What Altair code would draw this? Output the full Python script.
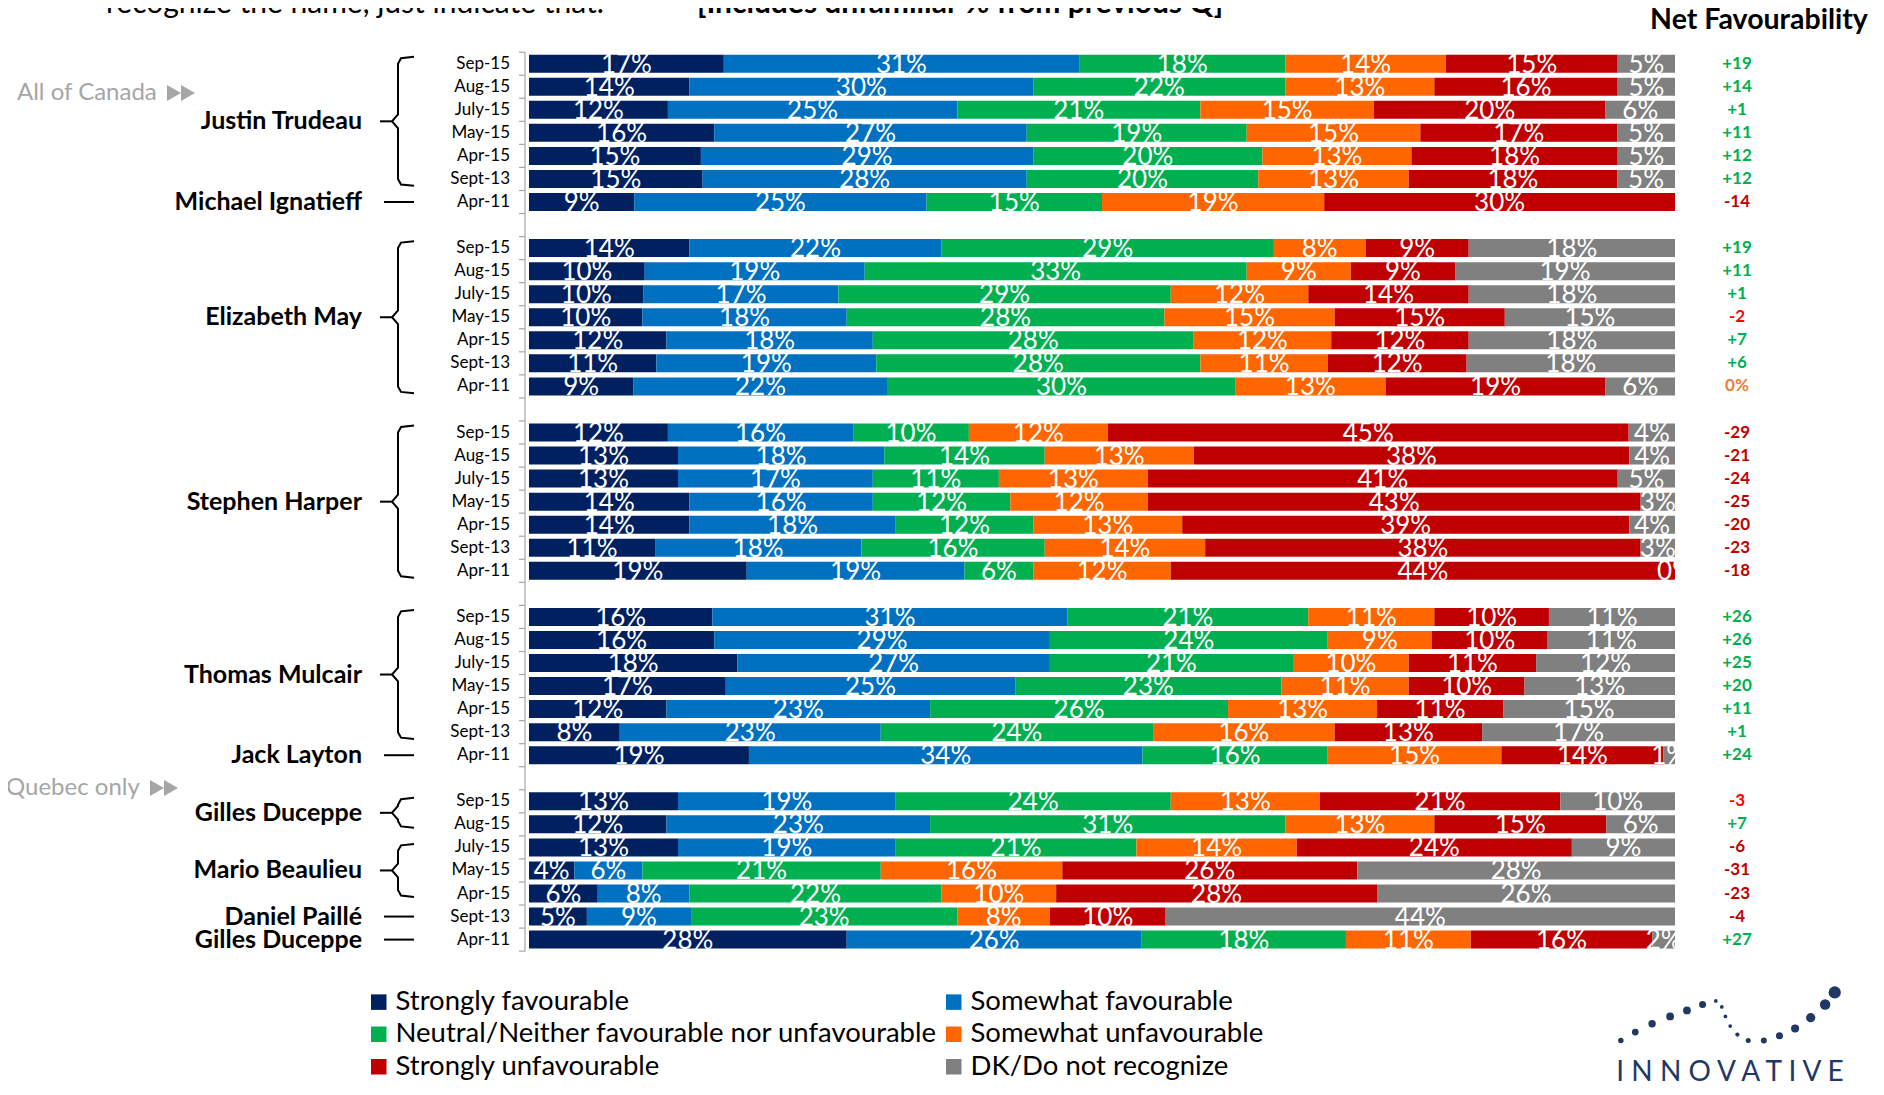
import altair as alt
import pandas as pd

# ---------------- data ----------------
dates = ["Sep-15", "Aug-15", "July-15", "May-15", "Apr-15", "Sept-13", "Apr-11"]
leaders = (["Justin Trudeau"] * 6 + ["Michael Ignatieff"]
           + ["Elizabeth May"] * 7
           + ["Stephen Harper"] * 7
           + ["Thomas Mulcair"] * 6 + ["Jack Layton"]
           + ["Gilles Duceppe"] * 2 + ["Mario Beaulieu"] * 3 + ["Daniel Paillé", "Gilles Duceppe"])
categories = ["Strongly favourable", "Somewhat favourable",
              "Neutral/Neither favourable nor unfavourable", "Somewhat unfavourable",
              "Strongly unfavourable", "DK/Do not recognize"]
colors = ["#002060", "#0070C0", "#00B050", "#FF6600", "#C00000", "#808080"]

strongly_fav = [17, 14, 12, 16, 15, 15, 9, 14, 10, 10, 10, 12, 11, 9, 12, 13, 13, 14, 14, 11, 19,
                16, 16, 18, 17, 12, 8, 19, 13, 12, 13, 4, 6, 5, 28]
somewhat_fav = [31, 30, 25, 27, 29, 28, 25, 22, 19, 17, 18, 18, 19, 22, 16, 18, 17, 16, 18, 18, 19,
                31, 29, 27, 25, 23, 23, 34, 19, 23, 19, 6, 8, 9, 26]
neutral = [18, 22, 21, 19, 20, 20, 15, 29, 33, 29, 28, 28, 28, 30, 10, 14, 11, 12, 12, 16, 6,
           21, 24, 21, 23, 26, 24, 16, 24, 31, 21, 21, 22, 23, 18]
somewhat_unfav = [14, 13, 15, 15, 13, 13, 19, 8, 9, 12, 15, 12, 11, 13, 12, 13, 13, 12, 13, 14, 12,
                  11, 9, 10, 11, 13, 16, 15, 13, 13, 14, 16, 10, 8, 11]
strongly_unfav = [15, 16, 20, 17, 18, 18, 30, 9, 9, 14, 15, 12, 12, 19, 45, 38, 41, 43, 39, 38, 44,
                  10, 10, 11, 10, 11, 13, 14, 21, 15, 24, 26, 28, 10, 16]
dk = [5, 5, 6, 5, 5, 5, None, 18, 19, 18, 15, 18, 18, 6, 4, 4, 5, 3, 4, 3, 0,
      11, 11, 12, 13, 15, 17, 1, 10, 6, 9, 28, 26, 44, 2]
net = [19, 14, 1, 11, 12, 12, -14, 19, 11, 1, -2, 7, 6, 0, -29, -21, -24, -25, -20, -23, -18,
       26, 26, 25, 20, 11, 1, 24, -3, 7, -6, -31, -23, -4, 27]

# logo dots (decorative), in reference-pixel units
logo_x = [1349, 1361, 1375, 1390, 1404, 1417, 1428, 1433, 1436, 1440, 1446, 1455, 1468, 1481, 1494, 1507, 1519, 1527]
logo_y = [866, 859, 852, 846, 841, 836, 833, 838, 846, 854, 861, 866, 866, 862, 856, 847, 836, 826]
logo_s = [30, 45, 55, 60, 60, 50, 14, 14, 14, 14, 18, 25, 35, 50, 65, 85, 110, 150]

# ---------------- layout ----------------
W, H = 1868, 1080
BAR_L, BAR_R = 529.0, 1675.0
ROW0, STEP = 63.7, 23.05
F = "Lato"


def px(x):
    return (x - BAR_L) / (BAR_R - BAR_L)


def ry(y):
    return (y - ROW0) / STEP


XS = alt.Scale(domain=[px(8), px(8 + W)], nice=False, zero=False)
YS = alt.Scale(domain=[ry(8), ry(8 + H)], nice=False, zero=False, reverse=True)


def X(f):
    return alt.X(f, scale=XS, axis=None)


def Y(f):
    return alt.Y(f, scale=YS, axis=None)


rows = [g * 8 + i for g in range(5) for i in range(7)]
series = [strongly_fav, somewhat_fav, neutral, somewhat_unfav, strongly_unfav, dk]

recs = []
for k, r in enumerate(rows):
    for j, vals in enumerate(series):
        v = vals[k]
        if v is None:
            continue
        recs.append({"row": r, "cat": categories[j], "ord": j, "v": v, "lab": f"{v}%"})
df = pd.DataFrame(recs)

base = alt.Chart(df).transform_stack(
    stack="v", groupby=["row"], as_=["x0", "x1"], offset="normalize",
    sort=[alt.SortField("ord", order="ascending")]
).transform_calculate(
    xm="(datum.x0 + datum.x1) / 2", yt="datum.row - 0.39", yb="datum.row + 0.39"
)

legend = alt.Legend(orient="none", legendX=357, legendY=980, columns=2, direction="horizontal",
                    title=None, symbolType="square", symbolSize=240, symbolStrokeWidth=0,
                    symbolOpacity=1, labelFont=F, labelFontSize=27.5, labelColor="black",
                    labelLimit=900, labelOffset=3, rowPadding=3.5, columnPadding=2, padding=0)

bars = base.mark_bar().encode(
    x=X("x0:Q"), x2="x1:Q", y=Y("yt:Q"), y2="yb:Q",
    color=alt.Color("cat:N", scale=alt.Scale(domain=categories, range=colors), legend=legend),
)
labels = base.mark_text(font=F, fontSize=26, color="white", align="center",
                        baseline="middle", dy=1).encode(x=X("xm:Q"), y=Y("row:Q"), text="lab:N")


# net favourability
def net_text(v):
    return "0%" if v == 0 else f"{v:+d}"


def net_color(v):
    if v > 0:
        return "#00B050"
    if v == 0:
        return "#ED7D31"
    if v >= -3:
        return "#FF0000"
    return "#C00000"


df_net = pd.DataFrame({"row": rows, "t": [net_text(v) for v in net], "c": [net_color(v) for v in net],
                       "x": px(1737)})
net_layer = alt.Chart(df_net).mark_text(font=F, fontWeight="bold", fontSize=17, align="center",
                                         baseline="middle").encode(
    x=X("x:Q"), y=Y("row:Q"), text="t:N", fill=alt.Fill("c:N", scale=None))

# date labels (category axis)
df_dates = pd.DataFrame({"row": rows, "d": dates * 5, "x": px(510)})
date_layer = alt.Chart(df_dates).mark_text(font=F, fontSize=17, align="right", baseline="middle",
                                           color="black").encode(x=X("x:Q"), y=Y("row:Q"), text="d:N")

# axis line + ticks
df_axis = pd.DataFrame({"x": [px(525)], "y": [-0.5], "y2": [38.5]})
axis_line = alt.Chart(df_axis).mark_rule(color="#A6A6A6", strokeWidth=1.2).encode(
    x=X("x:Q"), y=Y("y:Q"), y2="y2:Q")
df_ticks = pd.DataFrame({"y": [r - 0.5 for r in range(40)], "x": px(519), "x2": px(525)})
ticks = alt.Chart(df_ticks).mark_rule(color="#A6A6A6", strokeWidth=1.2).encode(
    x=X("x:Q"), x2="x2:Q", y=Y("y:Q"))

# leader names and braces
runs = []
for r, name in zip(rows, leaders):
    if runs and runs[-1]["name"] == name and runs[-1]["last"] == r - 1:
        runs[-1]["last"] = r
    else:
        runs.append({"name": name, "first": r, "last": r})

name_recs, pts = [], []
XV, XH, XP, XD, XC = px(398), px(414), px(392), px(380), px(401)
for i, run in enumerate(runs):
    n = run["last"] - run["first"] + 1
    if n > 1:
        pad = 0.3 if n >= 6 else 0.15
        top, bot = run["first"] - pad, run["last"] + pad
        mid = (top + bot) / 2
        path = [(XH, top), (XC, top + 0.06), (XV, top + 0.3), (XV, mid - 0.3), (XP, mid),
                (XV, mid + 0.3), (XV, bot - 0.3), (XC, bot - 0.06), (XH, bot)]
        for o, (bx, by) in enumerate(path):
            pts.append({"id": f"b{i}", "o": o, "bx": bx, "by": by})
        pts.append({"id": f"d{i}", "o": 0, "bx": XD, "by": mid})
        pts.append({"id": f"d{i}", "o": 1, "bx": XP, "by": mid})
    else:
        mid = run["first"]
        pts.append({"id": f"d{i}", "o": 0, "bx": px(384), "by": mid})
        pts.append({"id": f"d{i}", "o": 1, "bx": XH, "by": mid})
    name_recs.append({"name": run["name"], "y": mid, "x": px(362)})

df_br = pd.DataFrame(pts)
braces = alt.Chart(df_br).mark_line(color="black", strokeWidth=2).encode(
    x=X("bx:Q"), y=Y("by:Q"), detail="id:N", order="o:Q")
names = alt.Chart(pd.DataFrame(name_recs)).mark_text(
    font=F, fontWeight="bold", fontSize=25, align="right", baseline="middle", color="black"
).encode(x=X("x:Q"), y=Y("y:Q"), text="name:N")

# region markers
df_reg = pd.DataFrame({"t": ["All of Canada", "Quebec only"], "x": [px(17), px(6)], "y": [ry(93), ry(788)]})
regions = alt.Chart(df_reg).mark_text(font=F, fontSize=24, align="left", baseline="middle",
                                      color="#A6A6A6").encode(x=X("x:Q"), y=Y("y:Q"), text="t:N")
df_tri = pd.DataFrame({"x": [px(174), px(188), px(157), px(171)],
                       "y": [ry(93), ry(93), ry(788), ry(788)]})
tris = alt.Chart(df_tri).mark_point(shape="triangle-right", filled=True, size=260, color="#A6A6A6",
                                    opacity=1).encode(x=X("x:Q"), y=Y("y:Q"))

# titles
df_top = pd.DataFrame({"t": ["recognize the name, just indicate that."], "x": [px(106)], "y": [ry(13)]})
top1 = alt.Chart(df_top).mark_text(font=F, fontSize=30, align="left", baseline="alphabetic",
                                   color="black").encode(x=X("x:Q"), y=Y("y:Q"), text="t:N")
df_top2 = pd.DataFrame({"t": ["[Includes unfamiliar % from previous Q]"], "x": [px(697)], "y": [ry(13)]})
top2 = alt.Chart(df_top2).mark_text(font=F, fontSize=30, fontWeight="bold", align="left",
                                    baseline="alphabetic", color="black").encode(
    x=X("x:Q"), y=Y("y:Q"), text="t:N")
df_nf = pd.DataFrame({"t": ["Net Favourability"], "x": [px(1759)], "y": [ry(20)]})
nf = alt.Chart(df_nf).mark_text(font=F, fontSize=28.5, fontWeight="bold", align="center",
                                baseline="middle", color="black").encode(
    x=X("x:Q"), y=Y("y:Q"), text="t:N")

# logo
S = 1884 / 1568
df_logo = pd.DataFrame({"x": [px(v * S) for v in logo_x], "y": [ry(v * S) for v in logo_y], "s": logo_s})
logo_dots = alt.Chart(df_logo).mark_circle(color="#1F3864", opacity=1).encode(
    x=X("x:Q"), y=Y("y:Q"), size=alt.Size("s:Q", scale=None, legend=None))
df_lt = pd.DataFrame({"t": ["I N N O V A T I V E"], "x": [px(1730)], "y": [ry(1073)]})
logo_text = alt.Chart(df_lt).mark_text(font=F, fontSize=28, align="center",
                                       baseline="middle", color="#1F3864").encode(
    x=X("x:Q"), y=Y("y:Q"), text="t:N")

chart = alt.layer(
    bars, labels, net_layer, date_layer, axis_line, ticks, braces, names, regions, tris,
    top1, top2, nf, logo_dots, logo_text
).properties(
    width=W, height=H, padding=0, autosize=alt.AutoSizeParams(type="none")
).configure_view(stroke=None)

chart.save("out.html", embed_options={"renderer": "svg", "actions": False})
